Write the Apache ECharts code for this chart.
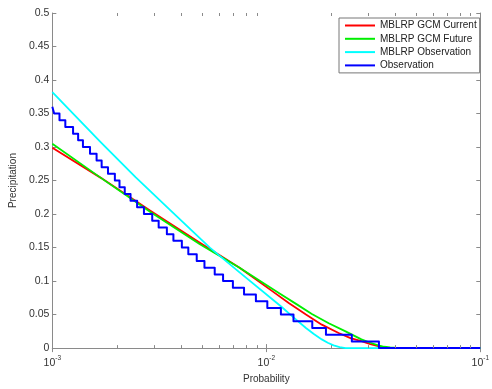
<!DOCTYPE html>
<html>
<head>
<meta charset="utf-8">
<script src="https://cdn.jsdelivr.net/npm/echarts@6/dist/echarts.min.js"></script>
<style>
html,body{margin:0;padding:0;background:#fff;}
#chart{width:492px;height:389px;}
</style>
</head>
<body>
<div id="chart"></div>
<script>
// ---- data ----
const seriesNames = ['MBLRP GCM Current', 'MBLRP GCM Future', 'MBLRP Observation', 'Observation'];

const gcmCurProb = [0.001, 0.001686, 0.002872, 0.004894, 0.007499, 0.008893, 0.01066, 0.01278, 0.01532, 0.01817,
                    0.02178, 0.02475, 0.02783, 0.03063, 0.03336, 0.03556, 0.03791, 0.1];
const gcmCurVal  = [0.299, 0.254, 0.205, 0.157, 0.120, 0.103, 0.085, 0.067, 0.050, 0.035,
                    0.0226, 0.0148, 0.0103, 0.0060, 0.003, 0.0012, 0, 0];

const gcmFutProb = [0.001, 0.001686, 0.002872, 0.004894, 0.007499, 0.009282, 0.01149, 0.01377, 0.01633, 0.01958,
                    0.02347, 0.02555, 0.02783, 0.03063, 0.03336, 0.03556, 0.03791, 0.04217, 0.1];
const gcmFutVal  = [0.305, 0.254, 0.203, 0.155, 0.120, 0.101, 0.082, 0.066, 0.051, 0.037,
                    0.025, 0.019, 0.013, 0.008, 0.004, 0.002, 0.001, 0, 0];

const mblrpObsProb = [0.001, 0.001686, 0.002448, 0.003556, 0.005446, 0.007499, 0.01173, 0.01348, 0.01532, 0.01668,
                      0.01817, 0.01937, 0.02064, 0.02201, 0.02347, 0.1];
const mblrpObsVal  = [0.382, 0.307, 0.255, 0.206, 0.150, 0.113, 0.062, 0.045, 0.030, 0.021,
                      0.013, 0.008, 0.004, 0.0015, 0, 0];

// observation staircase: probability at which each 0.01 drop occurs
const obsDropProb = [0.00102, 0.00108, 0.00115, 0.00125, 0.00132, 0.00139, 0.00150, 0.00161, 0.00170, 0.00182,
                     0.00196, 0.00206, 0.00218, 0.00232, 0.00249, 0.00268, 0.00293, 0.00314, 0.00343, 0.00368,
                     0.00403, 0.00432, 0.00473, 0.00514, 0.00574, 0.00628, 0.00698, 0.00787, 0.00894, 0.01011,
                     0.0117, 0.0134, 0.0164, 0.0190, 0.0251, 0.0336];
const obsLevels = [0.36, 0.35, 0.34, 0.33, 0.32, 0.31, 0.30, 0.29, 0.28, 0.27, 0.26, 0.25, 0.24, 0.23, 0.22, 0.21,
                   0.20, 0.19, 0.18, 0.17, 0.16, 0.15, 0.14, 0.13, 0.12, 0.11, 0.10, 0.09, 0.08, 0.07, 0.06,
                   0.05, 0.04, 0.03, 0.02, 0.01, 0];
const obsEndProb = 0.1;

const xMin = 0.001, xMax = 0.1;
const yMin = 0, yMax = 0.5, yInterval = 0.05;
const minorTickProb = [0.002,0.003,0.004,0.005,0.006,0.007,0.008,0.009,0.02,0.03,0.04,0.05,0.06,0.07,0.08,0.09];

// ---- build ----
const zip = (a, b) => a.map((v, i) => [v, b[i]]);
const obsData = [[xMin, obsLevels[0]]];
obsDropProb.forEach((p, i) => { obsData.push([p, obsLevels[i]]); obsData.push([p, obsLevels[i + 1]]); });
obsData.push([obsEndProb, obsLevels[obsLevels.length - 1]]);

const FONT = '"Liberation Sans", Arial, Helvetica, sans-serif';
const AX = '#8a8a8a';
const TXT = '#333';

const chart = echarts.init(document.getElementById('chart'), null, {renderer: 'canvas'});

function lineSeries(name, data, color, width, z) {
  return {name, type: 'line', data, symbol: 'none', showSymbol: false, clip: false, z,
          lineStyle: {color, width, join: 'round'}, itemStyle: {color}, emphasis: {disabled: true}, animation: false};
}

const option = {
  animation: false,
  backgroundColor: '#fff',
  textStyle: {fontFamily: FONT},
  grid: {left: 51, right: 9, top: 13, bottom: 35, containLabel: false},
  legend: {
    orient: 'vertical', left: 339, top: 18,
    data: seriesNames, icon: 'rect', itemWidth: 30, itemHeight: 2, itemGap: 2.3,
    padding: [2, 3, 2, 6], borderColor: '#777', borderWidth: 1, backgroundColor: '#fff',
    textStyle: {fontFamily: FONT, fontSize: 10, color: '#222', lineHeight: 11},
    selectedMode: false, z: 10
  },
  xAxis: [{
    type: 'log', logBase: 10, min: xMin, max: xMax, position: 'bottom',
    name: 'Probability', nameLocation: 'middle', nameGap: 19,
    nameTextStyle: {fontFamily: FONT, fontSize: 10, color: TXT},
    axisLine: {show: true, lineStyle: {color: AX, width: 1}},
    axisTick: {show: true, inside: true, length: 4, lineStyle: {color: AX}},
    splitLine: {show: false},
    axisLabel: {
      margin: 7, color: TXT, fontFamily: FONT,
      formatter: v => '{b|10}{s|' + Math.round(Math.log10(v)) + '}',
      rich: {
        b: {fontSize: 10.5, color: TXT, fontFamily: FONT, lineHeight: 14, verticalAlign: 'bottom'},
        s: {fontSize: 6.5, color: TXT, fontFamily: FONT, lineHeight: 8, verticalAlign: 'top'}
      }
    }
  }, {
    type: 'log', logBase: 10, min: xMin, max: xMax, position: 'top',
    axisLine: {show: true, lineStyle: {color: AX, width: 1}},
    axisTick: {show: true, inside: true, length: 4, lineStyle: {color: AX}},
    axisLabel: {show: false}, splitLine: {show: false}
  }],
  yAxis: [{
    type: 'value', min: yMin, max: yMax, interval: yInterval, position: 'left',
    name: 'Precipitation', nameLocation: 'middle', nameGap: 27,
    nameTextStyle: {fontFamily: FONT, fontSize: 10, color: TXT},
    axisLine: {show: true, lineStyle: {color: AX, width: 1}},
    axisTick: {show: true, inside: true, length: 4, lineStyle: {color: AX}},
    splitLine: {show: false},
    axisLabel: {margin: 3, color: TXT, fontFamily: FONT, fontSize: 10.5,
      formatter: v => String(parseFloat(v.toFixed(2)))}
  }, {
    type: 'value', min: yMin, max: yMax, interval: yInterval, position: 'right',
    axisLine: {show: true, lineStyle: {color: AX, width: 1}},
    axisTick: {show: true, inside: true, length: 4, lineStyle: {color: AX}},
    axisLabel: {show: false}, splitLine: {show: false}
  }],
  series: [
    lineSeries(seriesNames[0], zip(gcmCurProb, gcmCurVal), '#ff0000', 1.8, 2),
    lineSeries(seriesNames[1], zip(gcmFutProb, gcmFutVal), '#00ee00', 1.8, 3),
    lineSeries(seriesNames[2], zip(mblrpObsProb, mblrpObsVal), '#00ffff', 1.8, 4),
    lineSeries(seriesNames[3], obsData, '#0000ff', 2, 5),
    {
      type: 'custom', silent: true, clip: false, z: 6,
      data: minorTickProb.map(p => [p, yMin]),
      encode: {x: 0, y: 1},
      renderItem: function (params, api) {
        const p = api.value(0);
        const b = api.coord([p, yMin]);
        const t = api.coord([p, yMax]);
        const x = Math.round(b[0]) + 0.5;
        return {type: 'group', children: [
          {type: 'line', shape: {x1: x, y1: b[1], x2: x, y2: b[1] - 3}, style: {stroke: AX, lineWidth: 1}},
          {type: 'line', shape: {x1: x, y1: t[1], x2: x, y2: t[1] + 3}, style: {stroke: AX, lineWidth: 1}}
        ]};
      }
    }
  ]
};
chart.setOption(option);
</script>
</body>
</html>
